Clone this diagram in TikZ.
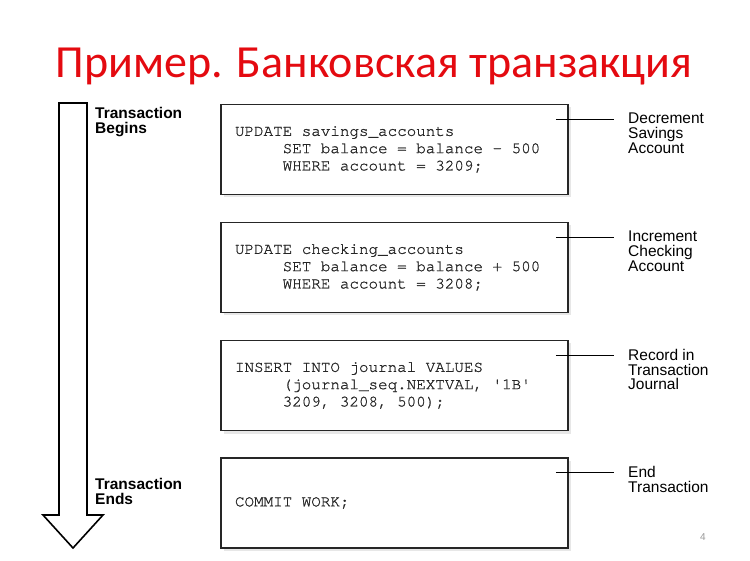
\documentclass[tikz,border=0pt]{standalone}
\usepackage{fontspec}
\setmainfont{Liberation Sans}
\setmonofont{texgyrecursor-regular.otf}[WordSpace = {1,0,0}, FakeBold = 1]
\newfontfamily\titlefont{Carlito}
\usepackage[dvipsnames]{xcolor}
\usetikzlibrary{shadows}
\definecolor{titlered}{RGB}{228,10,16}

\begin{document}
\begin{tikzpicture}[x = 1pt, y = -1pt,
            codebox/.style = {draw = black!85, line width = 1.5pt, fill = white,
                minimum width = 347pt, minimum height = 90pt, text width = 319pt,
                inner xsep = 14pt, align = left, text = black!85,
                font = \ttfamily\fontsize{15.9}{17.3}\selectfont,
                execute at begin node = {\spaceskip 0.6em\relax\xspaceskip 0.6em\relax},
                drop shadow = {shadow xshift = 3pt, shadow yshift = -3pt, fill = black!18}},
            note/.style = {anchor = north west, inner sep = 0pt, align = left,
                font = \fontsize{15.5}{14.7}\selectfont},
            stage/.style = {anchor = north west, inner sep = 0pt, align = left,
                font = \bfseries\fontsize{15.5}{15}\selectfont},
            leader/.style = {line width = 0.8pt, shorten >= 14pt}]
            \fill[white] (0, 0) rectangle (750, 561);
            \useasboundingbox (0, 0) rectangle (750, 561);

            \node[text = titlered, font = \titlefont\fontsize{46}{46}\selectfont, anchor = base]
                (title) at (374, 78) {Пример. Банковская транзакция};

            % flow arrow
            \draw[line width = 1.6pt, fill = white, line join = miter]
                (59, 103) -- (87, 103) -- (87, 515) -- (103, 515) -- (73, 548)
                -- (43, 515) -- (59, 515) -- cycle;
            \node[stage] (begins) at (95, 107) {Transaction\\Begins};
            \node[stage] (ends) at (95, 478) {Transaction\\Ends};

            \node[codebox] (b1) at (394.5, 149.5) {UPDATE savings\_accounts\\
                \hspace*{3em}SET balance = balance - 500\\
                \hspace*{3em}WHERE account = 3209;};
            \node[codebox] (b2) at (394.5, 267.5) {UPDATE checking\_accounts\\
                \hspace*{3em}SET balance = balance + 500\\
                \hspace*{3em}WHERE account = 3208;};
            \node[codebox] (b3) at (394.5, 385.5) {INSERT INTO journal VALUES\\
                \hspace*{3em}(journal\_seq.NEXTVAL, \textquotesingle 1B\textquotesingle\\
                \hspace*{3em}3209, 3208, 500);};
            \node[codebox] (b4) at (394.5, 503) {COMMIT WORK;};

            % notes on the right
            \node[note] (n1) at (628, 113) {Decrement\\Savings\\Account};
            \node[note] (n2) at (628, 231) {Increment\\Checking\\Account};
            \node[note] (n3) at (628, 349) {Record in\\Transaction\\Journal};
            \node[note] (n4) at (628, 466) {End\\Transaction};
            \draw[leader] ([shift = {(-13, 16)}]b1.north east) coordinate (l1) -- (l1 -| n1.west);
            \draw[leader] ([shift = {(-13, 16)}]b2.north east) coordinate (l2) -- (l2 -| n2.west);
            \draw[leader] ([shift = {(-13, 16)}]b3.north east) coordinate (l3) -- (l3 -| n3.west);
            \draw[leader] ([shift = {(-13, 15)}]b4.north east) coordinate (l4) -- (l4 -| n4.west);

            \node[text = black!40, font = \fontsize{10}{10}\selectfont] (page) at (703, 537) {4};
        \end{tikzpicture}
\end{document}
